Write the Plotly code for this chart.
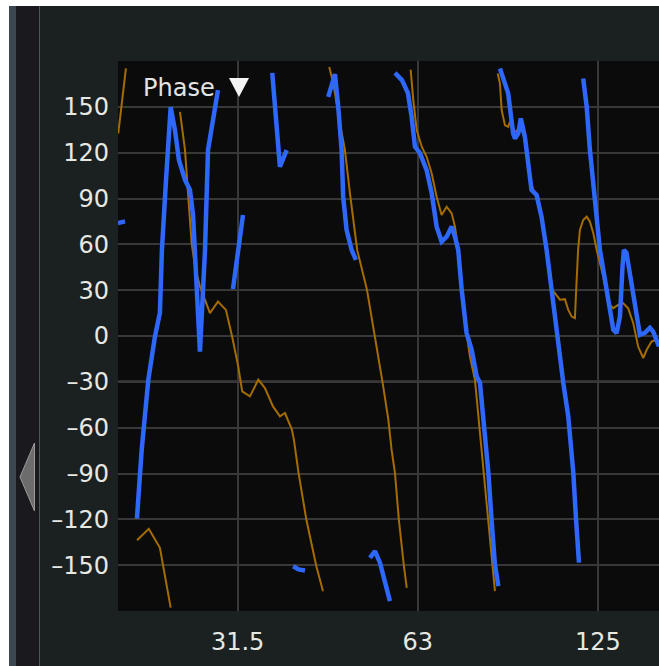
import math
import plotly.graph_objects as go

# ---- data: transfer-function phase (degrees) vs frequency (Hz) ----
# None entries break the trace where the phase wraps or is not shown
blue_freq = [
    19.72, 20.26, None,
    21.21, 21.6, 22.16, 22.73, 23.17, 23.35, 23.72, 24.15, 24.55, 24.93, 25.52,
    26.01, 26.32, 26.52, 27.03, 27.56, 27.88, 28.97, None,
    30.69, 31.9, None,
    35.7, 36.77, 37.74, None,
    38.7, 39.5, 40.49, None,
    44.28, 45.44, 46.02, 46.62, 46.9, 47.52, 48.46, 49.26, None,
    51.99, 53.0, 54.03, 56.15, None,
    57.24, 58.8, 60.17, 61.03, 61.82, 63.02, 64.66, 65.92, 67.2, 68.5, 69.84,
    71.2, 72.1, 73.02, 74.0, 75.4, 76.9, 78.4, 79.38, 80.4, 81.4, 82.0, 83.0,
    84.09, 85.2, None,
    85.73, 88.5, 90.2, 90.82, 92.0, 92.9, 94.38, 95.6, 96.8, 98.7, 100.6, 102.6,
    104.6, 106.6, 109.4, 111.5, 113.0, 113.7, 114.9, 116.2, None,
    118.1, 119.7, 121.2, 123.55, 125.95, 127.6, 130.0, 132.6, 134.3, 136.03,
    137.4, 138.1, 139.5, 141.36, 143.2, 145.1, 146.9, 149.76, 152.67, 154.6, 158.1,
]
blue_phase = [
    74, 75, None,
    -119.5, -74.6, -28.6, -0.5, 15.2, 56.3, 102.1, 149.8, 134.8, 115.2, 102.1,
    95.6, 79.3, 56.3, -10.3, 56.3, 121.7, 160.9, None,
    30.8, 79.2, None,
    172.2, 110.8, 121.7, None,
    -150.7, -152.8, -153.5, None,
    156.5, 171.4, 150, 121.7, 91.2, 69.4, 56.3, 49.8, None,
    -145.2, -140.8, -148.4, -173.5, None,
    172.2, 167.5, 159, 143.5, 123.9, 119.7, 108.6, 93.6, 71.6, 61.8, 65,
    71.6, 65, 56.3, 30.2, 1.9, -9, -26.5, -30.6, -52.6, -74.4, -89.6, -120.1,
    -149.5, -163.7, None,
    175.1, 158.8, 132.6, 129.3, 132.6, 142.4, 130.4, 110.8, 95.6, 92.3, 78.1, 56.3,
    30.2, -0.3, -30.8, -52.6, -74.4, -89.6, -120.1, -148.4, None,
    168.6, 150, 121.7, 91.2, 56.3, 43.3, 23.7, 4.1, 1.9, 12.7,
    45.4, 56.3, 54.4, 41.3, 30.2, 15.2, 0.8, 2.1, 5.4, 2.9, -6.9,
]

orange_freq = [
    19.74, 20.33, None,
    21.22, 22.2, 23.17, 24.15, None,
    25.03, 25.52, 25.84, 26.18, 26.52, 27.03, 27.56, 28.09, 28.97, 29.87, 30.59,
    31.32, 31.8, 32.76, 33.83, 34.71, 35.8, 36.77, 37.49, 38.5, 38.8, 39.5, 40.7,
    42.3, 43.4, None,
    44.45, 45.15, 46.32, 47.22, 48.14, 49.07, 49.5, 51.4, 53.0, 54.6, 55.8, 56.5,
    57.24, 58.1, 59.25, 59.9, None,
    60.8, 61.43, 62.24, 63.45, 64.66, 65.92, 67.2, 68.5, 69.84, 71.2, 72.1, 73.02,
    75.4, 76.38, 77.87, 78.9, 79.9, 81.4, 83.0, 84.09, None,
    85.0, 85.73, 86.3, 87.39, 88.5, 89.09, 90.82, 92.58, 93.7, 95.0, 96.22, 97.4,
    99.3, 101.3, 103.1, 104.7, 105.93, 107.99, 110.08, 111.5, 113.0, 114.4, 115.1,
    115.8, 116.62, 118.1, 119.7, 121.2, 122.8, 124.4, 127.6, 130.0, 132.6, 135.1,
    137.7, 140.4, 143.2, 145.9, 148.8, 150.8, 153.6, 156.6, 158.1,
]
orange_phase = [
    132.6, 175.1, None,
    -133.7, -126.2, -138.6, -177.8, None,
    146.7, 121.7, 91.2, 60.7, 45.4, 32.4, 23.7, 15.0, 22.5, 17.1, -0.3,
    -19.9, -36.3, -39.5, -28.6, -34.1, -46.1, -52.6, -50.4, -61.3, -67.8, -89.6, -120.1,
    -150.7, -167, None,
    176.1, 165.3, 139.2, 121.7, 93.4, 69.4, 56.3, 30.2, -0.3, -30.8, -54.8, -74.4,
    -89.6, -120.1, -150.7, -164.8, None,
    174.4, 154.4, 134.8, 123.9, 117.3, 106.5, 91.2, 79.2, 84.6, 80.3, 71.6, 56.3,
    1.9, -13.4, -28.6, -52.6, -74.4, -111.4, -144.1, -167, None,
    171.8, 165.3, 147.8, 138, 136.9, 140.2, 133.5, 136.1, 132.8, 121.7, 104.2, 95.6,
    91.2, 71.6, 48.5, 30.2, 28, 23.7, 24.1, 17.1, 12.7, 11.7, 34.6,
    56.3, 69.4, 75.9, 78.1, 74.8, 67.3, 56.3, 38.9, 21.5, 18.2, 20.4,
    21.5, 18.2, 8.4, -6.9, -14.4, -9.0, -3.6, -2.5, -5.8,
]

freq_ticks = [31.25, 62.5, 125]
freq_labels = ["31.5", "63", "125"]
phase_ticks = list(range(-180, 181, 30))
phase_labels = ["" if abs(v) == 180 else str(v).replace("-", "\u2013") for v in phase_ticks]
ref_phase = -30
freq_range = (19.72, 158.1)

# ---- page geometry ----
W, H = 659, 666
ML, MR, MT, MB = 118, 0, 61, 55
PW, PH = W - ML - MR, H - MT - MB

PANEL = "#1b2021"
PLOT_BG = "#0b0b0b"
GRID = "#383838"
TEXT = "#e8e8e2"
FONT = "DejaVu Sans"


def pp(x, y):
    """page pixel -> paper coordinates"""
    return (x - ML) / PW, (H - MB - y) / PH


def rect(x0, y0, x1, y1, color):
    a, b = pp(x0, y1)
    c, d = pp(x1, y0)
    return dict(type="rect", xref="paper", yref="paper", x0=a, y0=b, x1=c, y1=d,
                fillcolor=color, line=dict(width=0), layer="above")


def poly(points, fill, edge=None):
    pts = [pp(x, y) for x, y in points]
    path = "M " + " L ".join(f"{a:.5f},{b:.5f}" for a, b in pts) + " Z"
    return dict(type="path", xref="paper", yref="paper", path=path, fillcolor=fill,
                line=dict(width=1 if edge else 0, color=edge or fill), layer="above")


fig = go.Figure()
fig.add_trace(go.Scatter(x=orange_freq, y=orange_phase, mode="lines",
                         line=dict(color="#a56c00", width=2), connectgaps=False,
                         hoverinfo="skip", showlegend=False))
fig.add_trace(go.Scatter(x=blue_freq, y=blue_phase, mode="lines",
                         line=dict(color="#2d68fa", width=4.5), connectgaps=False,
                         hoverinfo="skip", showlegend=False))

shapes = [
    # reference line
    dict(type="line", xref="paper", yref="y", x0=0, x1=1, y0=ref_phase, y1=ref_phase,
         line=dict(color="#9c9c9c", width=2), layer="below"),
    # side rail
    rect(0, 0, W, 6, "#ffffff"),
    rect(0, 0, 9, H, "#ffffff"),
    rect(9, 6, 16, H, "#3c4751"),
    rect(16, 6, 39, H, "#1a1a1e"),
    rect(39, 6, 40, H, "#4e5659"),
    poly([(20, 477), (34.5, 443), (34.5, 511)], "#6c6c6c", "#9a9a9a"),
    # dropdown marker
    poly([(229, 78), (249, 78), (239, 97)], "#f4f4f4"),
]

fig.update_layout(
    width=W, height=H,
    margin=dict(l=ML, r=MR, t=MT, b=MB, pad=0),
    paper_bgcolor=PANEL, plot_bgcolor=PLOT_BG,
    shapes=shapes,
    annotations=[dict(text="Phase", xref="paper", yref="paper",
                      x=pp(141, 88)[0], y=pp(141, 88)[1], xanchor="left", yanchor="middle",
                      showarrow=False, font=dict(family=FONT, size=24, color="#e4e4e4"))],
    font=dict(family=FONT, size=24, color=TEXT),
)
fig.update_xaxes(type="log", range=[math.log10(freq_range[0]), math.log10(freq_range[1])],
                 tickvals=freq_ticks, ticktext=freq_labels, showgrid=True, gridcolor=GRID,
                 gridwidth=2, zeroline=False, showline=False, ticks="",
                 ticklabelstandoff=14, tickfont=dict(family=FONT, size=24, color=TEXT))
fig.update_yaxes(range=[-180, 180], tickvals=phase_ticks, ticktext=phase_labels,
                 showgrid=True, gridcolor=GRID, gridwidth=2, zeroline=False, showline=False,
                 ticks="", ticklabelstandoff=8, tickfont=dict(family=FONT, size=24, color=TEXT))

fig.write_html("out.html")
